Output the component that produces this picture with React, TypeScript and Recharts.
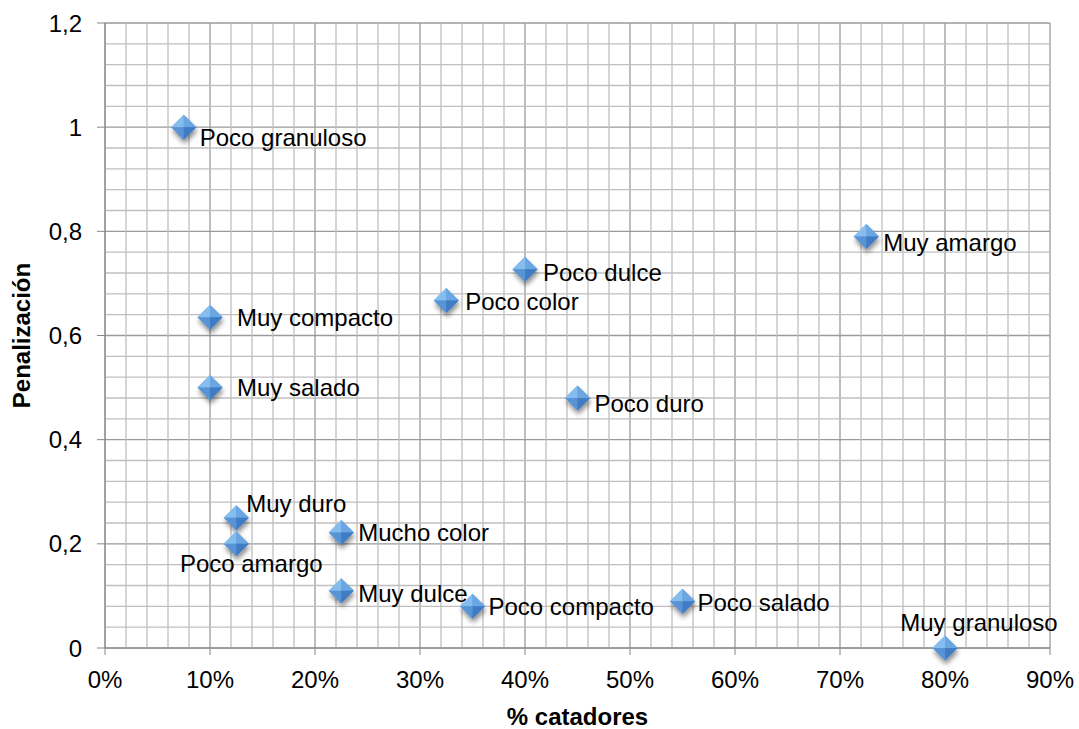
import { ScatterChart, Scatter, XAxis, YAxis, CartesianGrid, Label, ReferenceLine } from 'recharts'

// Atributos evaluados
const ATTRIBUTES = [
  'Poco granuloso',
  'Muy compacto',
  'Muy salado',
  'Muy duro',
  'Poco amargo',
  'Mucho color',
  'Muy dulce',
  'Poco compacto',
  'Poco salado',
  'Muy granuloso',
  'Muy amargo',
  'Poco dulce',
  'Poco color',
  'Poco duro',
]

// % de catadores que marcaron el atributo
const TASTERS = [0.075, 0.1, 0.1, 0.125, 0.125, 0.225, 0.225, 0.35, 0.55, 0.8, 0.725, 0.4, 0.325, 0.45]

// penalización media
const PENALTY = [1.0, 0.635, 0.5, 0.25, 0.2, 0.222, 0.11, 0.08, 0.09, 0, 0.79, 0.727, 0.667, 0.48]

const X_TICKS = [0, 0.1, 0.2, 0.3, 0.4, 0.5, 0.6, 0.7, 0.8, 0.9]
const Y_TICKS = [0, 0.2, 0.4, 0.6, 0.8, 1, 1.2]
// secondary grid: every 2% and every 0.04, skipping the labelled ticks
const X_MINOR = Array.from({ length: 46 }, (_, i) => i).filter((i) => i % 5 !== 0).map((i) => +(i * 0.02).toFixed(2))
const Y_MINOR = Array.from({ length: 31 }, (_, i) => i).filter((i) => i % 5 !== 0).map((i) => +(i * 0.04).toFixed(2))

// label placement next to each marker: [dx, dy, anchor]
const LABEL_PLACE: [number, number, 'start' | 'middle'][] = [
  [16, 10, 'start'],
  [27, 0, 'start'],
  [27, 0, 'start'],
  [10, -14, 'start'],
  [15, 20, 'middle'],
  [17, 0, 'start'],
  [17, 3, 'start'],
  [16, 0, 'start'],
  [15, 1, 'start'],
  [34, -26, 'middle'],
  [17, 6, 'start'],
  [18, 3, 'start'],
  [19, 1, 'start'],
  [17, 5, 'start'],
]

const points = ATTRIBUTES.map((name, i) => ({ i, name, x: TASTERS[i], y: PENALTY[i] }))

const FONT = '"Liberation Sans", Arial, sans-serif'

const fmtPct = (v: number) => `${Math.round(v * 100)}%`
const fmtDec = (v: number) => String(Math.round(v * 10) / 10).replace('.', ',')

function Diamond(props: any) {
  const { cx, cy, payload } = props
  const r = 12.5
  const [dx, dy, anchor] = LABEL_PLACE[payload.i]
  return (
    <g>
      <g filter="url(#dropShadow)">
        <polygon points={`${cx},${cy - r} ${cx + r},${cy} ${cx},${cy + r} ${cx - r},${cy}`} fill="url(#diamondFill)" />
      </g>
      <polygon points={`${cx},${cy - r} ${cx},${cy} ${cx - r},${cy}`} fill="#86bdef" />
      <polygon points={`${cx},${cy - r} ${cx + r},${cy} ${cx},${cy}`} fill="#6aa6e2" />
      <polygon points={`${cx - r},${cy} ${cx},${cy} ${cx},${cy + r}`} fill="#5893d6" />
      <polygon points={`${cx},${cy} ${cx + r},${cy} ${cx},${cy + r}`} fill="#3f7cc4" />
      <text
        x={cx + dx}
        y={cy + dy}
        dy="0.36em"
        textAnchor={anchor}
        fontSize={24}
        fontFamily={FONT}
        fill="#000"
      >
        {payload.name}
      </text>
    </g>
  )
}

const axisTitle = (text: string, rotate: boolean) => (p: any) => {
  const vb = p.viewBox
  if (rotate) {
    const x = 21
    const y = vb.y + vb.height / 2
    return (
      <text x={x} y={y} transform={`rotate(-90 ${x} ${y})`} textAnchor="middle" dy="0.36em"
        fontSize={24} fontWeight="bold" fontFamily={FONT} fill="#000">
        {text}
      </text>
    )
  }
  return (
    <text x={vb.x + vb.width / 2} y={716} textAnchor="middle" dy="0.36em"
      fontSize={24} fontWeight="bold" fontFamily={FONT} fill="#000">
      {text}
    </text>
  )
}

export default function App() {
  return (
    <div style={{ position: 'absolute', left: 0, top: 0, width: 1079, height: 729, background: '#fff' }}>
      <ScatterChart width={1079} height={729} margin={{ top: 23, right: 29, left: 0, bottom: 31 }}>
        <defs>
          <linearGradient id="diamondFill" x1="0" y1="0" x2="1" y2="1">
            <stop offset="0%" stopColor="#8cc3f2" />
            <stop offset="100%" stopColor="#3a74bb" />
          </linearGradient>
          <filter id="dropShadow" x="-50%" y="-50%" width="200%" height="200%">
            <feGaussianBlur in="SourceAlpha" stdDeviation="2.5" />
            <feOffset dx="1" dy="4" result="blur" />
            <feComponentTransfer>
              <feFuncA type="linear" slope="0.45" />
            </feComponentTransfer>
            <feMerge>
              <feMergeNode />
              <feMergeNode in="SourceGraphic" />
            </feMerge>
          </filter>
        </defs>

        <CartesianGrid stroke="#9a9a9a" strokeWidth={1.3} />

        {X_MINOR.map((v) => (
          <ReferenceLine key={`vx${v}`} x={v} stroke="#bfbfbf" strokeWidth={1.3} />
        ))}
        {Y_MINOR.map((v) => (
          <ReferenceLine key={`hy${v}`} y={v} stroke="#bfbfbf" strokeWidth={1.3} />
        ))}

        <XAxis
          type="number"
          dataKey="x"
          domain={[0, 0.9]}
          ticks={X_TICKS}
          tickFormatter={fmtPct}
          height={50}
          tickSize={7}
          tickMargin={16}
          axisLine={{ stroke: '#868686' }}
          tickLine={{ stroke: '#868686' }}
          tick={{ fill: '#000', fontSize: 24, fontFamily: FONT }}
          interval={0}
        >
          <Label content={axisTitle('% catadores', false)} />
        </XAxis>
        <YAxis
          type="number"
          dataKey="y"
          domain={[0, 1.2]}
          ticks={Y_TICKS}
          tickFormatter={fmtDec}
          width={105}
          tickSize={8}
          tickMargin={15}
          axisLine={{ stroke: '#868686' }}
          tickLine={{ stroke: '#868686' }}
          tick={{ fill: '#000', fontSize: 24, fontFamily: FONT }}
          interval={0}
        >
          <Label content={axisTitle('Penalización', true)} />
        </YAxis>

        <Scatter data={points} shape={Diamond} isAnimationActive={false} />
      </ScatterChart>
    </div>
  )
}
